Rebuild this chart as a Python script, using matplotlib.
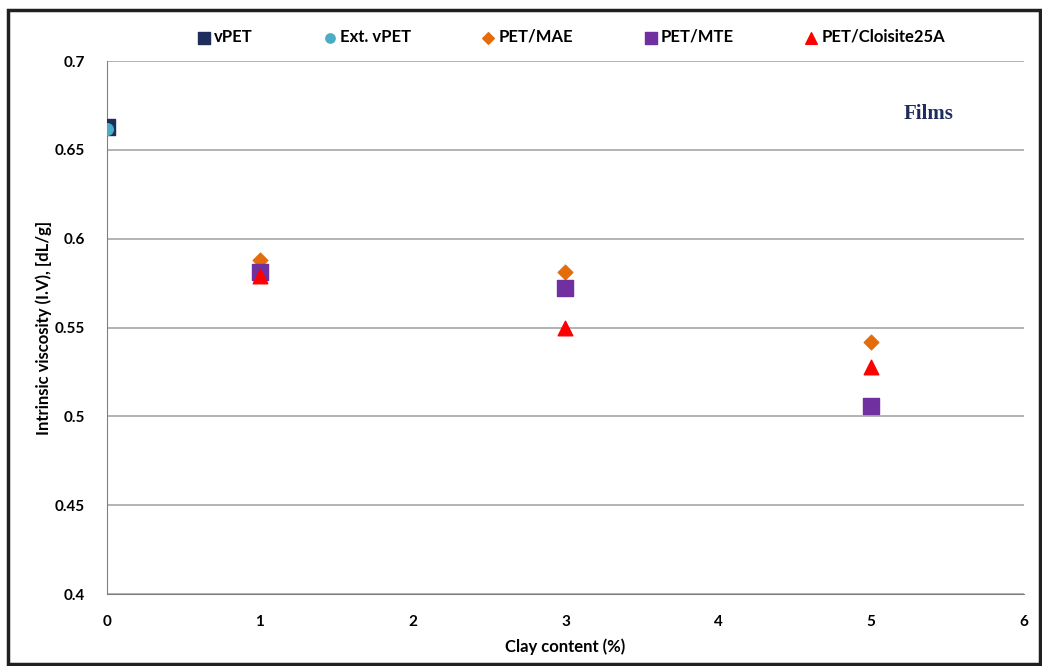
import matplotlib
matplotlib.use("Agg")
import matplotlib.pyplot as plt
from matplotlib.patches import Rectangle

plt.rcParams['font.family'] = ['Lato', 'DejaVu Sans']

# Clay content (%) and intrinsic viscosity (dL/g) per material
vpet_x = [0]
vpet_y = [0.663]
ext_vpet_x = [0]
ext_vpet_y = [0.662]
mae_x = [1, 3, 5]
mae_y = [0.588, 0.581, 0.542]
mte_x = [1, 3, 5]
mte_y = [0.581, 0.572, 0.506]
cloisite_x = [1, 3, 5]
cloisite_y = [0.579, 0.550, 0.528]

x_ticks = [0, 1, 2, 3, 4, 5, 6]
y_ticks = [0.4, 0.45, 0.5, 0.55, 0.6, 0.65, 0.7]
y_tick_labels = ['0.4', '0.45', '0.5', '0.55', '0.6', '0.65', '0.7']

fig = plt.figure(figsize=(10.42, 6.66), dpi=100)
# outer chart frame
fig.patches.append(Rectangle((8 / 1042, 2 / 666), 1 - 10 / 1042, 1 - 12 / 666,
                             transform=fig.transFigure, fill=False,
                             edgecolor='#202020', linewidth=2.5))
ax = fig.add_axes([0.1027, 0.1081, 0.88, 0.8003])

grid_c = '#A6A6A6'
ax.scatter(vpet_x, vpet_y, marker='s', s=120, color='#1F2D5C', edgecolor='#1F2D5C',
           label='vPET', zorder=3)
ax.scatter(ext_vpet_x, ext_vpet_y, marker='o', s=70, color='#4BACC6', edgecolor='#4BACC6',
           label='Ext. vPET', zorder=4)
ax.scatter(mae_x, mae_y, marker='D', s=55, color='#E46C0A', edgecolor='#E46C0A',
           label='PET/MAE', zorder=3)
ax.scatter(mte_x, mte_y, marker='s', s=120, color='#7030A0', edgecolor='#7030A0',
           label='PET/MTE', zorder=3)
ax.scatter(cloisite_x, cloisite_y, marker='^', s=110, color='#FF0000', edgecolor='#FF0000',
           label='PET/Cloisite25A', zorder=4)

ax.set_xlim(0, 6)
ax.set_ylim(0.4, 0.7)
ax.set_xticks(x_ticks)
ax.set_yticks(y_ticks)
ax.set_yticklabels(y_tick_labels)
ax.yaxis.grid(True, color=grid_c, linewidth=1.2)
ax.set_axisbelow(True)
for side in ['top', 'right']:
    ax.spines[side].set_visible(False)
ax.spines['left'].set_color('#808080')
ax.spines['bottom'].set_color('#808080')
ax.tick_params(axis='both', length=0, labelsize=11, colors='black')
ax.tick_params(axis='x', pad=15)
ax.tick_params(axis='y', pad=16)
for lbl in ax.get_xticklabels() + ax.get_yticklabels():
    lbl.set_fontweight('bold')

ax.set_xlabel('Clay content (%)', fontsize=12, fontweight='bold', labelpad=7)
ax.set_ylabel('Intrinsic viscosity (I.V), [dL/g]', fontsize=12, fontweight='bold', labelpad=2)

ax.text(0.869, 0.9, 'Films', transform=ax.transAxes, fontsize=15, fontweight='bold',
        color='#1F2D5C', family='Liberation Serif', ha='left', va='center')

fig.legend(loc='center', bbox_to_anchor=(570 / 1042, 1 - 37 / 666), ncol=5, frameon=False,
           prop={'weight': 'bold', 'size': 12}, columnspacing=4.15,
           handletextpad=0.1, handlelength=1.0, scatterpoints=1, markerscale=0.8)

fig.savefig('out.png', dpi=100)
